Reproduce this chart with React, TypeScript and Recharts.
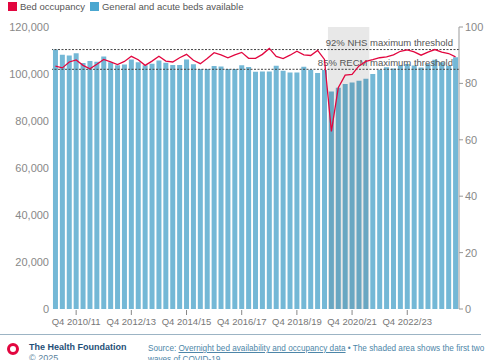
import { ComposedChart, Bar, Line, XAxis, YAxis, ReferenceArea, ReferenceLine } from 'recharts';

// financial years covered, quarters Q1 2010/11 .. Q3 2024/25
const startYear = 2010;
const quarterCount = 59;

const bedsAvailable = [
  110400, 108200, 107900, 108800, 104700, 105500, 105200, 107400, 105000, 103700,
  104000, 106200, 105000, 103700, 104400, 105700, 104800, 103800, 103800, 106200,
  104100, 102100, 102100, 103400, 103200, 102100, 102100, 103700, 103000, 101000,
  101100, 101100, 103500, 101400, 100600, 100600, 103100, 101800, 100400, 101700,
  92600, 94200, 95700, 96400, 97100, 98000, 100000, 101800, 102900, 102300,
  103600, 104300, 103600, 102800, 104300, 106100, 105000, 103500, 107100,
];

const occupancy = [
  86.1, 85.5, 87.6, 88.3, 86.4, 85.2, 86.8, 88.5, 87.6, 86.7,
  87.8, 89.6, 88.4, 86.4, 87.9, 89.6, 87.9, 87.6, 89.1, 90.3,
  88.2, 87.0, 88.8, 90.9, 90.1, 89.1, 90.1, 91.0, 88.9, 88.9,
  90.3, 92.4, 89.6, 88.8, 90.0, 91.4, 90.1, 89.9, 91.7, 88.5,
  63.0, 78.5, 82.9, 83.2, 86.2, 87.8, 88.4, 89.1, 89.4, 90.1,
  91.4, 91.9, 91.2, 90.0, 91.1, 92.0, 91.1, 90.6, 89.4,
];

const quarters: string[] = [];
for (let fy = startYear; quarters.length < quarterCount; fy++) {
  for (let q = 1; q <= 4 && quarters.length < quarterCount; q++) {
    quarters.push(`Q${q} ${fy}/${String((fy + 1) % 100).padStart(2, '0')}`);
  }
}

const xTickLabels = ['Q4 2010/11', 'Q4 2012/13', 'Q4 2014/15', 'Q4 2016/17', 'Q4 2018/19', 'Q4 2020/21', 'Q4 2022/23'];
const leftTicks = [0, 20000, 40000, 60000, 80000, 100000, 120000];
const rightTicks = [0, 20, 40, 60, 80, 100];
const covidStart = 'Q1 2020/21';
const covidEnd = 'Q2 2021/22';
const thresholds = [
  { value: 92, label: '92% NHS maximum threshold' },
  { value: 85, label: '85% RECM maximum threshold' },
];

const data = quarters.map((q, i) => ({ quarter: q, beds: bedsAvailable[i], occupancy: occupancy[i] }));

const RED = '#e2063f';
const BLUE = '#74b8d6';
const FONT = '"Liberation Sans", Arial, sans-serif';

function XTick({ x, y, payload }: any) {
  if (!xTickLabels.includes(payload.value)) return null;
  return (
    <g>
      <line x1={x} x2={x} y1={y - 1} y2={y + 4} stroke="#888" strokeWidth={1} />
      <text x={x} y={y + 14} textAnchor="middle" fontSize={9.5} fill="#777" fontFamily={FONT}>
        {payload.value}
      </text>
    </g>
  );
}

export default function App() {
  return (
    <div style={{ position: 'fixed', left: 0, top: 0, width: 485, height: 360, background: '#fff', fontFamily: FONT, overflow: 'hidden' }}>
      <div style={{ position: 'absolute', left: 8, top: 1, display: 'flex', alignItems: 'center', fontSize: 9.5, color: '#555', whiteSpace: 'nowrap' }}>
        <span style={{ display: 'inline-block', width: 9, height: 9, background: RED, marginRight: 3 }} />
        <span style={{ marginRight: 5 }}>Bed occupancy</span>
        <span style={{ display: 'inline-block', width: 9, height: 9, background: '#4aa7d0', marginRight: 3 }} />
        <span>General and acute beds available</span>
      </div>

      <div style={{ position: 'absolute', left: 0, top: 0 }}>
        <ComposedChart width={485} height={330} data={data} margin={{ top: 27, right: 0, left: 0, bottom: 0 }} barCategoryGap="14%">
          <XAxis dataKey="quarter" interval={0} tick={<XTick />} tickLine={false} axisLine={false} height={21} tickSize={0} />
          <YAxis
            yAxisId="left"
            domain={[0, 120000]}
            ticks={leftTicks}
            width={52}
            axisLine={false}
            tickLine={false}
            tickSize={0}
            tickMargin={3}
            tick={{ fontSize: 11, fill: '#888', fontFamily: FONT }}
            tickFormatter={(v: number) => v.toLocaleString('en-GB')}
          />
          <YAxis
            yAxisId="right"
            orientation="right"
            domain={[0, 100]}
            ticks={rightTicks}
            width={26}
            axisLine={{ stroke: '#999' }}
            tickLine={{ stroke: '#999' }}
            tickSize={4}
            tickMargin={2}
            tick={{ fontSize: 11, fill: '#888', fontFamily: FONT }}
          />
          <Bar yAxisId="left" dataKey="beds" fill={BLUE} isAnimationActive={false} />
          <ReferenceArea
            yAxisId="left"
            x1={covidStart}
            x2={covidEnd}
            y1={0}
            y2={120000}
            fill="#000"
            fillOpacity={0.09}
            stroke="none"
            zIndex={350}
          />
          {thresholds.map((t) => (
            <ReferenceLine
              key={t.value}
              yAxisId="right"
              y={t.value}
              stroke="#444"
              strokeDasharray="2 1.5"
              strokeWidth={1}
              zIndex={360}
              label={(props: any) => {
                const vb = props.viewBox;
                return (
                  <text x={vb.x + vb.width - 6} y={vb.y - 3.5} textAnchor="end" fontSize={9.5} fill="#555" fontFamily={FONT}>
                    {t.label}
                  </text>
                );
              }}
            />
          ))}
          <Line
            yAxisId="right"
            type="linear"
            dataKey="occupancy"
            stroke={RED}
            strokeWidth={1.3}
            dot={false}
            isAnimationActive={false}
          />
        </ComposedChart>
      </div>

      <div style={{ position: 'absolute', left: 0, top: 334, width: 481, height: 1, background: '#9cb4c4' }} />
      <div
        style={{
          position: 'absolute',
          left: 7,
          top: 343,
          width: 6,
          height: 6,
          borderRadius: '50%',
          border: `3px solid ${RED}`,
        }}
      />
      <div style={{ position: 'absolute', left: 29, top: 342, fontSize: 9, fontWeight: 'bold', color: '#1f4f78', lineHeight: '11px' }}>
        The Health Foundation
        <div style={{ fontWeight: 'normal', color: '#5a7f9c' }}>© 2025</div>
      </div>
      <div style={{ position: 'absolute', left: 148, top: 343, width: 345, fontSize: 8.2, color: '#4d86a8', lineHeight: '11px' }}>
        Source: <span style={{ textDecoration: 'underline' }}>Overnight bed availability and occupancy data</span> • The shaded area shows the first two waves of COVID-19
      </div>
    </div>
  );
}
